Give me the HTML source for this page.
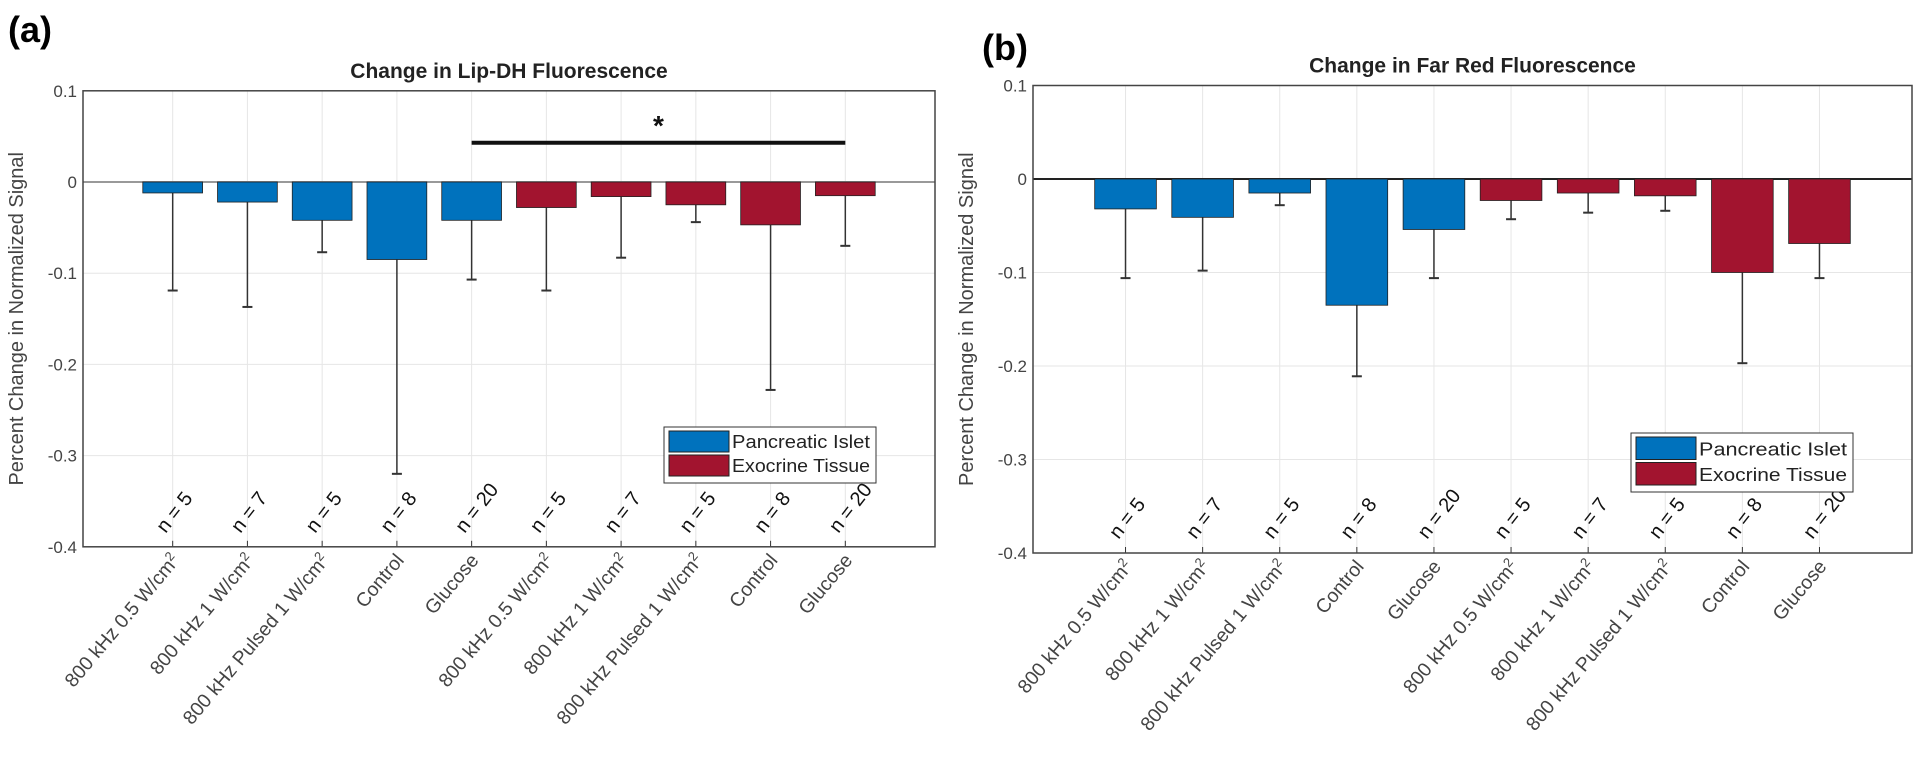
<!DOCTYPE html>
<html><head><meta charset="utf-8"><style>
html,body{margin:0;padding:0;background:#fff;}
svg{display:block;font-family:"Liberation Sans",Arial,sans-serif;}
</style></head><body>
<svg id="fig" width="1920" height="763" viewBox="0 0 1920 763"></svg>
<script>
const categories = ["800 kHz 0.5 W/cm","800 kHz 1 W/cm","800 kHz Pulsed 1 W/cm","Control","Glucose","800 kHz 0.5 W/cm","800 kHz 1 W/cm","800 kHz Pulsed 1 W/cm","Control","Glucose"];
const superscripts = [true,true,true,false,false,true,true,true,false,false];
const nCounts = [5,7,5,8,20,5,7,5,8,20];
const groups = ["islet","islet","islet","islet","islet","exo","exo","exo","exo","exo"];
const lipValues = [-0.012,-0.022,-0.042,-0.085,-0.042,-0.028,-0.016,-0.025,-0.047,-0.015];
const lipErrLow = [-0.119,-0.137,-0.077,-0.320,-0.107,-0.119,-0.083,-0.044,-0.228,-0.070];
const farValues = [-0.032,-0.041,-0.015,-0.135,-0.054,-0.023,-0.015,-0.018,-0.100,-0.069];
const farErrLow = [-0.106,-0.098,-0.028,-0.211,-0.106,-0.043,-0.036,-0.034,-0.197,-0.106];
const yTicks = [0.1,0,-0.1,-0.2,-0.3,-0.4];
const yTickLabels = ["0.1","0","-0.1","-0.2","-0.3","-0.4"];
const legendLabels = ["Pancreatic Islet","Exocrine Tissue"];
const sigBar = {from:5,to:10,y:0.043};

const NS="http://www.w3.org/2000/svg";
const svg=document.getElementById('fig');
const colors={islet:"#0072bd",exo:"#a2142f"};
function mk(tag,attrs,parent){const e=document.createElementNS(NS,tag);for(const k in attrs)e.setAttribute(k,attrs[k]);(parent||svg).appendChild(e);return e;}

function drawChart(cfg){
  const g=mk('g',{});
  
  
  const xS=v=>cfg.left+(v+0.2)/11.4*(cfg.right-cfg.left);
  const yS=v=>cfg.y0-v*cfg.ppu;
  const top=yS(0.1),bot=yS(-0.4);
  yTicks.forEach((t,i)=>{
    const gl=mk('line',{x1:cfg.left,x2:cfg.right,y1:yS(t),y2:yS(t),stroke:"#e6e6e6","stroke-width":1},g);
    
    
    const tl=mk('text',{x:cfg.left-6,y:yS(t)+6,"text-anchor":"end","font-size":17,fill:"#444"},g);
    tl.textContent=yTickLabels[i];
    
    
  });
  categories.forEach((c,i)=>{
    const x=xS(i+1);
    const vl=mk('line',{x1:x,x2:x,y1:top,y2:bot,stroke:"#e6e6e6","stroke-width":1},g);
    
    
  });
  const zl=mk('line',{x1:cfg.left,x2:cfg.right,y1:yS(0),y2:yS(0),stroke:cfg.zeroColor,"stroke-width":2},g);
  
  
  const bw=0.8/11.4*(cfg.right-cfg.left);
  categories.forEach((c,i)=>{
    const x=xS(i+1),v=cfg.values[i];
    const el=mk('line',{x1:x,x2:x,y1:yS(v),y2:yS(cfg.err[i]),stroke:"#333","stroke-width":1.5},g);
    
    
    const cap=mk('line',{x1:x-5,x2:x+5,y1:yS(cfg.err[i]),y2:yS(cfg.err[i]),stroke:"#333","stroke-width":2},g);
    
    
    const b=mk('rect',{x:x-bw/2,y:yS(0),width:bw,height:yS(v)-yS(0),fill:colors[groups[i]],stroke:"#222","stroke-width":0.8},g);
    
    
    const nl=mk('text',{x:0,y:0,"font-size":20,fill:"#111",transform:`translate(${x-7},${cfg.nY}) rotate(-52)`},g);
    nl.textContent='n = '+nCounts[i];
    
    
    const tk=mk('line',{x1:x,x2:x,y1:bot,y2:bot-6,stroke:"#333","stroke-width":1},g);
    
    
    const xl=mk('text',{x:0,y:0,"font-size":19.5,fill:"#444","text-anchor":"end",transform:`translate(${x+8},${bot+14}) rotate(-50)`},g);
    xl.textContent=c;
    if(superscripts[i]){const s=mk('tspan',{dy:-7,"font-size":13},xl);s.textContent='2';}
    
    
  });
  const box=mk('rect',{x:cfg.left,y:top,width:cfg.right-cfg.left,height:bot-top,fill:"none",stroke:"#444","stroke-width":1.5},g);
  
  
  const t=mk('text',{x:(cfg.left+cfg.right)/2,y:top-13,"text-anchor":"middle","font-size":21,"font-weight":"bold",fill:"#222"},g);
  t.textContent=cfg.title;
  
  
  const yt=mk('text',{x:0,y:0,"text-anchor":"middle","font-size":20,fill:"#444",transform:`translate(${cfg.left-60},${(top+bot)/2}) rotate(-90)`},g);
  yt.textContent='Percent Change in Normalized Signal';
  
  
  const pl=mk('text',{x:cfg.panelX,y:cfg.panelY,"font-size":36,"font-weight":"bold",fill:"#000"},g);
  pl.textContent=cfg.panel;
  
  
  const L=cfg.legend;
  const lg=mk('g',{},g);
  
  
  mk('rect',{x:L.x,y:L.y,width:L.w,height:L.h,fill:"#fff",stroke:"#333","stroke-width":1},lg);
  legendLabels.forEach((lab,k)=>{
    const ey=L.y+4+k*(L.h-8)/2;
    const eh=(L.h-8)/2-3;
    const sw=mk('rect',{x:L.x+5,y:ey,width:60,height:eh,fill:k?colors.exo:colors.islet,stroke:"#222","stroke-width":1},lg);
    
    
    const lt=mk('text',{x:L.x+68,y:ey+eh-4,"font-size":18,fill:"#222",textLength:L.w-74,lengthAdjust:"spacingAndGlyphs"},lg);
    lt.textContent=lab;
    
    
  });
  if(cfg.sig){
    const sl=mk('line',{x1:xS(cfg.sig.from),x2:xS(cfg.sig.to),y1:yS(cfg.sig.y),y2:yS(cfg.sig.y),stroke:"#111","stroke-width":4},g);
    
    
    const st=mk('text',{x:(xS(cfg.sig.from)+xS(cfg.sig.to))/2,y:yS(cfg.sig.y)-8,"text-anchor":"middle","font-size":28,"font-weight":"bold",fill:"#111"},g);
    st.textContent='*';
    
    
  }
}
drawChart({name:'lip-dh-chart',left:83,right:935,y0:182,ppu:912,values:lipValues,err:lipErrLow,zeroColor:"#999",
  title:'Change in Lip-DH Fluorescence',panel:'(a)',panelX:8,panelY:42,nY:534,
  legend:{x:664,y:427,w:212,h:56},sig:sigBar});
drawChart({name:'far-red-chart',left:1033,right:1912,y0:179,ppu:935,values:farValues,err:farErrLow,zeroColor:"#222",
  title:'Change in Far Red Fluorescence',panel:'(b)',panelX:982,panelY:60,nY:540,
  legend:{x:1631,y:433,w:222,h:59},sig:null});
</script>
</body></html>
